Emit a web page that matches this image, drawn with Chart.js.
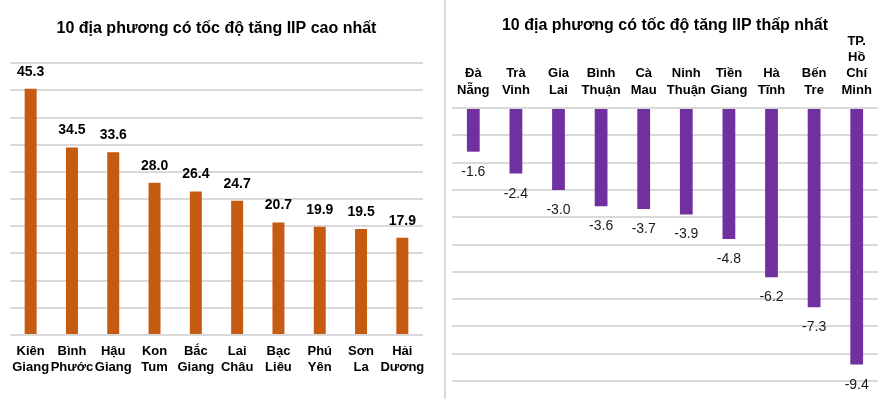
<!DOCTYPE html>
<html>
<head>
<meta charset="utf-8">
<script src="https://cdn.jsdelivr.net/npm/chart.js@4.4.1/dist/chart.umd.min.js"></script>
<style>
  html, body { margin: 0; padding: 0; background: #fff; }
  #wrap { position: relative; width: 893px; height: 408px; overflow: hidden; }
  #leftBox { position: absolute; left: 0; top: 0; width: 440px; height: 408px; }
  #rightBox { position: absolute; left: 446px; top: 0; width: 447px; height: 408px; }
  #sep { position: absolute; left: 444px; top: 0; width: 2px; height: 399px; background: #d9d9d9; }
</style>
</head>
<body>
<div id="wrap">
  <div id="leftBox"><canvas id="leftChart"></canvas></div>
  <div id="sep"></div>
  <div id="rightBox"><canvas id="rightChart"></canvas></div>
</div>
<script>
// data
const highCats = [['Kiên', 'Giang'], ['Bình', 'Phước'], ['Hậu', 'Giang'], ['Kon', 'Tum'], ['Bắc', 'Giang'],
  ['Lai', 'Châu'], ['Bạc', 'Liêu'], ['Phú', 'Yên'], ['Sơn', 'La'], ['Hải', 'Dương']]
const highVals = [45.3, 34.5, 33.6, 28.0, 26.4, 24.7, 20.7, 19.9, 19.5, 17.9]

const lowCats = [['Đà', 'Nẵng'], ['Trà', 'Vinh'], ['Gia', 'Lai'], ['Bình', 'Thuận'], ['Cà', 'Mau'],
  ['Ninh', 'Thuận'], ['Tiền', 'Giang'], ['Hà', 'Tĩnh'], ['Bến', 'Tre'], ['TP.', 'Hồ', 'Chí', 'Minh']]
const lowVals = [-1.6, -2.4, -3.0, -3.6, -3.7, -3.9, -4.8, -6.2, -7.3, -9.4]

const FONT = "'Liberation Sans', Arial, sans-serif"

// draws value labels next to each bar end
const valueLabels = {
  id: 'valueLabels',
  afterDatasetsDraw(chart, args, opts) {
    const ctx = chart.ctx
    const meta = chart.getDatasetMeta(0)
    const values = chart.data.datasets[0].data
    ctx.save()
    ctx.font = opts.font
    ctx.fillStyle = opts.color
    ctx.textAlign = 'center'
    ctx.textBaseline = 'alphabetic'
    meta.data.forEach((bar, i) => {
      ctx.fillText(values[i].toFixed(1), bar.x, bar.y + opts.offset)
    })
    ctx.restore()
  }
}

// Left chart
new Chart(document.getElementById('leftChart'), {
  type: 'bar',
  data: {
    labels: highCats,
    datasets: [{
      data: highVals,
      backgroundColor: '#C55A11',
      categoryPercentage: 1,
      barPercentage: 0.29,
    }]
  },
  plugins: [valueLabels],
  options: {
    responsive: true,
    maintainAspectRatio: false,
    animation: false,
    layout: { padding: { left: 10, right: 17, top: 0, bottom: 0 } },
    plugins: {
      legend: { display: false },
      tooltip: { enabled: false },
      title: {
        display: true,
        text: '10 địa phương có tốc độ tăng IIP cao nhất',
        color: '#000',
        font: { size: 16, weight: 'bold', family: FONT, lineHeight: 1.2 },
        padding: { top: 19, bottom: 25 },
      },
      valueLabels: { font: 'bold 14px ' + FONT, color: '#000', offset: -13 },
    },
    scales: {
      x: {
        grid: { display: false },
        border: { display: false },
        ticks: {
          color: '#000',
          padding: 0,
          autoSkip: false,
          maxRotation: 0,
          font: { size: 13, weight: 'bold', family: FONT, lineHeight: 1.23 },
        },
        afterFit: (scale) => { scale.height = 73 },
      },
      y: {
        min: 0,
        max: 50,
        ticks: { display: false, stepSize: 5 },
        grid: { color: '#D9D9D9', lineWidth: 2, drawTicks: false },
        border: { display: false },
      },
    }
  },
})

// Right chart
new Chart(document.getElementById('rightChart'), {
  type: 'bar',
  data: {
    labels: lowCats,
    datasets: [{
      data: lowVals,
      backgroundColor: '#7030A0',
      categoryPercentage: 1,
      barPercentage: 0.3,
    }]
  },
  plugins: [valueLabels],
  options: {
    responsive: true,
    maintainAspectRatio: false,
    animation: false,
    layout: { padding: { left: 6, right: 15, top: 0, bottom: 27 } },
    plugins: {
      legend: { display: false },
      tooltip: { enabled: false },
      title: {
        display: true,
        text: '10 địa phương có tốc độ tăng IIP thấp nhất',
        color: '#000',
        font: { size: 16, weight: 'bold', family: FONT, lineHeight: 1 },
        padding: { top: 18, bottom: 0 },
      },
      valueLabels: { font: '14px ' + FONT, color: '#1a1a1a', offset: 24 },
    },
    scales: {
      x: {
        position: 'top',
        grid: { display: false },
        border: { display: false },
        ticks: {
          color: '#000',
          padding: 2,
          autoSkip: false,
          maxRotation: 0,
          font: { size: 13, weight: 'bold', family: FONT, lineHeight: 1.24 },
        },
        afterFit: (scale) => { scale.height = 74 },
      },
      y: {
        min: -10,
        max: 0,
        ticks: { display: false, stepSize: 1 },
        grid: { color: '#D9D9D9', lineWidth: 2, drawTicks: false },
        border: { display: false },
      },
    }
  },
})
</script>
</body>
</html>
